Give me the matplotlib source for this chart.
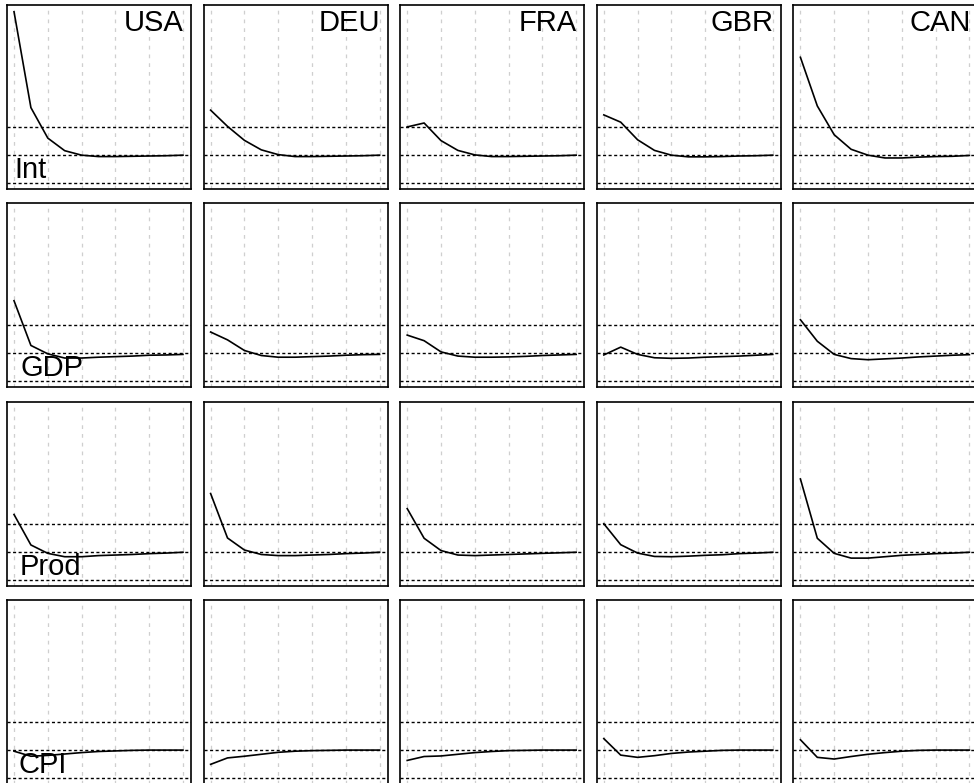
import matplotlib
matplotlib.use("Agg")
import matplotlib.pyplot as plt

plt.rcParams['font.family'] = ['Liberation Sans', 'DejaVu Sans']

countries = ["USA", "DEU", "FRA", "GBR", "CAN"]
variables = ["Int", "GDP", "Prod", "CPI"]
horizon = [0, 2, 4, 6, 8, 10, 12, 14, 16, 18, 20]

# responses, one list per country (USA, DEU, FRA, GBR, CAN)
resp_int = [
    [5.12, 1.69, 0.60, 0.15, -0.01, -0.06, -0.06, -0.05, -0.04, -0.03, -0.01],
    [1.60, 1.02, 0.52, 0.18, 0.01, -0.06, -0.06, -0.05, -0.04, -0.03, -0.01],
    [1.00, 1.14, 0.51, 0.16, 0.00, -0.06, -0.06, -0.05, -0.04, -0.03, -0.01],
    [1.43, 1.17, 0.54, 0.16, -0.01, -0.07, -0.07, -0.06, -0.04, -0.03, -0.01],
    [3.49, 1.75, 0.72, 0.20, -0.01, -0.11, -0.11, -0.08, -0.06, -0.05, -0.02],
]
resp_gdp = [
    [1.88, 0.28, -0.02, -0.17, -0.17, -0.14, -0.12, -0.10, -0.07, -0.06, -0.04],
    [0.76, 0.48, 0.10, -0.08, -0.14, -0.14, -0.12, -0.10, -0.07, -0.05, -0.04],
    [0.65, 0.45, 0.05, -0.10, -0.14, -0.14, -0.13, -0.11, -0.08, -0.06, -0.04],
    [-0.06, 0.22, -0.04, -0.16, -0.18, -0.17, -0.14, -0.12, -0.10, -0.07, -0.04],
    [1.20, 0.43, -0.04, -0.19, -0.23, -0.20, -0.17, -0.13, -0.10, -0.07, -0.05],
]
resp_prod = [
    [1.33, 0.24, -0.06, -0.18, -0.18, -0.14, -0.12, -0.10, -0.07, -0.05, -0.02],
    [2.08, 0.49, 0.06, -0.10, -0.14, -0.14, -0.12, -0.10, -0.07, -0.05, -0.02],
    [1.54, 0.48, 0.04, -0.12, -0.14, -0.12, -0.10, -0.08, -0.06, -0.04, -0.02],
    [1.00, 0.25, -0.05, -0.17, -0.18, -0.16, -0.13, -0.11, -0.07, -0.05, -0.02],
    [2.60, 0.48, -0.06, -0.23, -0.23, -0.18, -0.13, -0.10, -0.07, -0.05, -0.02],
]
resp_cpi = [
    [-0.04, -0.22, -0.19, -0.14, -0.09, -0.05, -0.03, -0.01, 0.00, 0.00, 0.00],
    [-0.51, -0.28, -0.22, -0.15, -0.08, -0.04, -0.02, -0.01, 0.00, 0.00, 0.00],
    [-0.37, -0.23, -0.21, -0.15, -0.09, -0.05, -0.02, -0.01, 0.00, 0.00, 0.00],
    [0.41, -0.18, -0.26, -0.20, -0.12, -0.07, -0.04, -0.01, 0.00, 0.00, 0.00],
    [0.37, -0.26, -0.32, -0.23, -0.15, -0.09, -0.04, -0.01, 0.00, 0.00, 0.00],
]
responses = [resp_int, resp_gdp, resp_prod, resp_cpi]

ref_levels = [-1, 0, 1]
vgrid = [0, 4, 8, 12, 16, 20]

W, H = 974, 783
fig = plt.figure(figsize=(W / 100, H / 100), dpi=100)

size = 184
label_dx = [7, 14, 13, 11]  # px from panel left for the row labels
for r, var in enumerate(variables):
    for c, cty in enumerate(countries):
        left = 7 + c * 196.6
        top = 5 + r * 198.4
        ax = fig.add_axes([left / W, 1 - (top + size) / H, size / W, size / H])
        for xv in vgrid:
            ax.axvline(xv, color="#cfcfcf", lw=0.9, ls=(0, (3, 4)), zorder=1)
        for yv in ref_levels:
            ax.axhline(yv, color="black", lw=1.0, ls=(0, (2.2, 1.8)), zorder=2)
        ax.plot(horizon, responses[r][c], color="black", lw=1.2, zorder=3)
        ax.set_xlim(-0.83, 20.95)
        ax.set_ylim(-1.22, 5.36)
        ax.set_xticks([])
        ax.set_yticks([])
        for s in ax.spines.values():
            s.set_linewidth(1.2)
        if r == 0:
            ax.text(1 - 7 / size, 1 - 4 / size, cty, transform=ax.transAxes,
                    ha="right", va="top", fontsize=21)
        if c == 0:
            ax.text(label_dx[r] / size, 11 / size, var, transform=ax.transAxes,
                    ha="left", va="baseline", fontsize=21)

fig.savefig("out.png", dpi=100)
